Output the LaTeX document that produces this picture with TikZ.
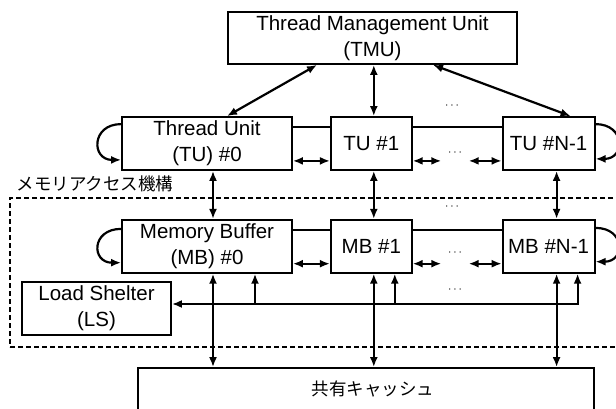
\documentclass[tikz,border=0pt]{standalone}
\usepackage{fontspec}
\setmainfont{Liberation Sans}
\newfontfamily\cjk{Noto Sans CJK JP}
\usetikzlibrary{arrows.meta}
\usetikzlibrary{positioning}
\tikzstyle{unit} = [rectangle, draw=black, line width=1.8pt, minimum height=53pt, inner sep=0pt, align=center, font=\fontsize{20.5}{26}\selectfont]
\tikzstyle{region} = [rectangle, draw=black, line width=1.3pt, dash pattern=on 5pt off 3pt, inner sep=0pt]
\tikzstyle{gap} = [inner sep=0pt, minimum width=27pt, font=\fontsize{13}{13}\selectfont]
\tikzstyle{link} = [line width=2.2pt]
\tikzstyle{arrow} = [line width=2.2pt, -{Latex[length=10pt,width=8pt]}]
\tikzstyle{darrow} = [line width=2.2pt, {Latex[length=10pt,width=8pt]}-{Latex[length=10pt,width=8pt]}]

\begin{document}
\begin{tikzpicture}[x=1pt, y=1pt]
\useasboundingbox (0,0) rectangle (616,408);
\clip (0,0) rectangle (616,408);

% Memory access region
\node (memacc) [region, minimum width=615pt, minimum height=149pt] at (317.5,135.5) {};
\node (memlabel) [anchor=south west, inner sep=0pt, font=\cjk\fontsize{17.5}{17.5}\selectfont] at ([xshift=7pt, yshift=5pt]memacc.north west) {メモリアクセス機構};

% TMU
\node (tmu) [unit, minimum width=289pt, minimum height=52pt] at (372.5,370) {Thread Management Unit\\(TMU)};

% Thread units
\node (tu0) [unit, minimum width=170pt] at (207,264.5) {Thread Unit\\(TU) \#0};
\node (tu1) [unit, minimum width=81pt, right=37pt of tu0] {TU \#1};
\node (tun) [unit, minimum width=92pt, right=89pt of tu1] {TU \#N-1};

% Memory buffers
\node (mb0) [unit, minimum width=170pt, below=48pt of tu0] {Memory Buffer\\(MB) \#0};
\node (mb1) [unit, minimum width=81pt, below=48pt of tu1] {MB \#1};
\node (mbn) [unit, minimum width=92pt, below=48pt of tun] {MB \#N-1};

% Load shelter
\node (ls) [unit, minimum width=149pt] at (96.5,99.5) {Load Shelter\\(LS)};

% Shared cache
\node (cache) [unit, minimum width=456pt, minimum height=42pt, font=\cjk\fontsize{17.5}{17.5}\selectfont] at (366,19) {\hspace{14pt}共有キャッシュ};

% Dots
\node (tmudots) [gap] at (452,302) {$\cdots$};
\node (tudots) [gap] at (455,255) {$\cdots$};
\node (regdots) [gap] at (452,201) {$\cdots$};
\node (mbdots) [gap] at (455,155) {$\cdots$};
\node (busdots) [gap] at (455,118) {$\cdots$};

% TMU arrows
\draw [darrow] ([xshift=-55.5pt]tmu.south) -- ([xshift=20pt]tu0.north);
\draw [darrow] ([xshift=2.5pt]tu1.north |- tmu.south) -- ([xshift=2.5pt]tu1.north);
\draw [darrow] ([xshift=60.5pt]tmu.south) -- ([xshift=22pt]tun.north);

% TU ring
\draw [link] ([yshift=-11pt]tu0.north east) -- ([yshift=-11pt]tu1.north west);
\draw [link] ([yshift=-11pt]tu1.north east) -- ([yshift=-11pt]tun.north west);
\draw [darrow] ([yshift=10pt]tu0.south east) -- ([yshift=10pt]tu1.south west);
\draw [darrow] ([yshift=10pt]tu1.south east) -- ([yshift=10pt]tu1.south east -| tudots.west);
\draw [darrow] ([yshift=10pt]tun.south west) -- ([yshift=10pt]tun.south west -| tudots.east);
\draw [arrow] ([yshift=-8pt]tu0.north west) .. controls +(-30pt,0) and +(-30pt,0) .. ([yshift=11pt]tu0.south west);
\draw [arrow] ([yshift=-8pt]tun.north east) .. controls +(30pt,0) and +(30pt,0) .. ([yshift=12pt]tun.south east);

% MB ring
\draw [link] ([yshift=-11pt]mb0.north east) -- ([yshift=-11pt]mb1.north west);
\draw [link] ([yshift=-11pt]mb1.north east) -- ([yshift=-11pt]mbn.north west);
\draw [darrow] ([yshift=10pt]mb0.south east) -- ([yshift=10pt]mb1.south west);
\draw [darrow] ([yshift=10pt]mb1.south east) -- ([yshift=10pt]mb1.south east -| mbdots.west);
\draw [darrow] ([yshift=10pt]mbn.south west) -- ([yshift=10pt]mbn.south west -| mbdots.east);
\draw [arrow] ([yshift=-10pt]mb0.north west) .. controls +(-30pt,0) and +(-30pt,0) .. ([yshift=11pt]mb0.south west);
\draw [arrow] ([yshift=-9pt]mbn.north east) .. controls +(30pt,0) and +(30pt,0) .. ([yshift=12pt]mbn.south east);

% TU to MB
\draw [darrow] ([xshift=6pt]tu0.south) -- ([xshift=6pt]mb0.north);
\draw [darrow] ([xshift=2.5pt]tu1.south) -- ([xshift=2.5pt]mb1.north);
\draw [darrow] ([xshift=8pt]tun.south) -- ([xshift=8pt]mbn.north);

% MB to cache
\draw [darrow] ([xshift=6pt]mb0.south) -- ([xshift=6pt]mb0.south |- cache.north);
\draw [darrow] ([xshift=2.5pt]mb1.south) -- ([xshift=2.5pt]mb1.south |- cache.north);
\draw [darrow] ([xshift=8pt]mbn.south) -- ([xshift=8pt]mbn.south |- cache.north);

% Bus into LS
\coordinate (bus) at ([yshift=4.5pt]ls.east);
\draw [darrow] ([xshift=29pt]mbn.south) |- (bus);
\draw [arrow] ([xshift=48pt]mb0.south |- bus) -- ([xshift=48pt]mb0.south);
\draw [arrow] ([xshift=23.5pt]mb1.south |- bus) -- ([xshift=23.5pt]mb1.south);

\end{tikzpicture}
\end{document}
